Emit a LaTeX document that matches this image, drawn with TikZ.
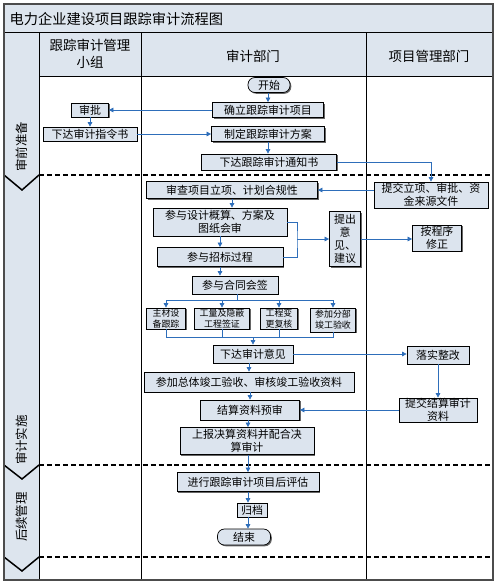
\documentclass[tikz,border=0pt]{standalone}
\usepackage{fontspec}
\setmainfont{Noto Sans CJK SC}
\usetikzlibrary{arrows.meta,shadows}
\definecolor{hdr}{RGB}{221,229,238}
\definecolor{boxfill}{RGB}{220,228,238}
\definecolor{arrblue}{RGB}{46,110,186}
\tikzset{
  fbox/.style={draw=black, fill=boxfill, line width=0.7pt, inner sep=0pt, align=center,
    font=\fontsize{11}{13}\selectfont,
    drop shadow={shadow xshift=1.3pt, shadow yshift=-1.3pt, fill=black!60, opacity=1}},
  sbox/.style={fbox, font=\fontsize{9}{11}\selectfont},
  term/.style={fbox, rounded corners=7pt},
  arr/.style={draw=arrblue, line width=0.65pt, -{Triangle[width=4.5pt,length=4.5pt]}},
  cline/.style={draw=arrblue, line width=0.65pt},
  lane/.style={draw=black, line width=1pt},
  sep/.style={draw=black, line width=1.3pt, dash pattern=on 5pt off 3pt},
  chev/.style={draw=black, line width=1.5pt},
  hdrtext/.style={font=\fontsize{13.5}{16.5}\selectfont, align=center},
  phase/.style={font=\fontsize{12.5}{14}\selectfont, rotate=90}
}
\begin{document}
\begin{tikzpicture}[x=1bp,y=-1bp]
\useasboundingbox (0,0) rectangle (498,584);
% backgrounds
\fill[hdr] (4,4) rectangle (493,33);
\fill[hdr] (4,33) rectangle (39,580);
\fill[hdr] (39,33) rectangle (493,76);
% title
\node[anchor=west, font=\fontsize{14.3}{17}\selectfont] (title) at (6,19) {电力企业建设项目跟踪审计流程图};
% headers
\node[hdrtext] (h1) at (90,54) {跟踪审计管理\\小组};
\node[hdrtext] (h2) at (253,56) {审计部门};
\node[hdrtext] (h3) at (429,56) {项目管理部门};
% lanes
\draw[lane] (4,33) -- (493,33);
\draw[lane] (39,76) -- (493,76);
\draw[lane] (39,33) -- (39,580);
\draw[lane] (141,33) -- (141,580);
\draw[lane] (366,33) -- (366,580);
% phase separators
\draw[sep] (39,175) -- (493,175);
\draw[sep] (39,465) -- (493,465);
\draw[sep] (39,557) -- (493,557);
\draw[chev] (4,175) -- (22,190) -- (39,175);
\draw[chev] (4,465) -- (22,479) -- (39,465);
\draw[chev] (4,557) -- (22,571) -- (39,557);
% phase labels
\node[phase] (ph1) at (22,147) {审前准备};
\node[phase] (ph2) at (22,440) {审计实施};
\node[phase] (ph3) at (22,517) {后续管理};
% outer frame
\draw[line width=1.2pt, draw=black!70] (4,4) rectangle (493,580);

% nodes
\node[term, minimum width=42bp, minimum height=15bp] (start) at (269,85) {开始};
\node[fbox, minimum width=111bp, minimum height=15bp] (n1) at (268,110) {确立跟踪审计项目};
\node[fbox, minimum width=113bp, minimum height=15bp] (n2) at (268,134) {制定跟踪审计方案};
\node[fbox, minimum width=135bp, minimum height=16bp] (n3) at (269,162) {下达跟踪审计通知书};
\node[fbox, minimum width=37bp, minimum height=14bp] (a1) at (90,110) {审批};
\node[fbox, minimum width=94bp, minimum height=14bp] (a2) at (90,134) {下达审计指令书};
\node[fbox, minimum width=114bp, minimum height=26bp] (p1) at (431,195) {提交立项、审批、资\\金来源文件};
\node[fbox, minimum width=171bp, minimum height=17bp] (m1) at (232,190) {审查项目立项、计划合规性};
\node[fbox, minimum width=134bp, minimum height=28bp] (m2) at (220,222) {参与设计概算、方案及\\图纸会审};
\node[fbox, minimum width=126bp, minimum height=19bp] (m3) at (220,257) {参与招标过程};
\node[fbox, minimum width=31bp, minimum height=55bp] (s1) at (345,239) {提出\\意\\见、\\建议};
\node[fbox, minimum width=49bp, minimum height=26bp] (p2) at (437,238) {按程序\\修正};
\node[fbox, minimum width=86bp, minimum height=18bp] (m4) at (235,285) {参与合同会签};
\node[sbox, minimum width=39bp, minimum height=21bp] (c1) at (166,318.5) {主材设\\备跟踪};
\node[sbox, minimum width=55bp, minimum height=21bp] (c2) at (222,318.5) {工量及隐蔽\\工程签证};
\node[sbox, minimum width=37bp, minimum height=21bp] (c3) at (279,318.5) {工程变\\更复核};
\node[sbox, minimum width=45bp, minimum height=24bp] (c4) at (333,320) {参加分部\\竣工验收};
\node[fbox, minimum width=80bp, minimum height=18bp] (m5) at (253,354) {下达审计意见};
\node[fbox, minimum width=62bp, minimum height=18bp] (p3) at (438,355) {落实整改};
\node[fbox, minimum width=210bp, minimum height=20bp] (m6) at (249,382) {参加总体竣工验收、审核竣工验收资料};
\node[fbox, minimum width=78bp, minimum height=24bp] (p4) at (438,410) {提交结算审计\\资料};
\node[fbox, minimum width=99bp, minimum height=20bp] (m7) at (250,410) {结算资料预审};
\node[fbox, minimum width=134bp, minimum height=27bp] (m8) at (247,441) {上报决算资料并配合决\\算审计};
\node[fbox, minimum width=142bp, minimum height=19bp] (m9) at (248,482) {进行跟踪审计项目后评估};
\node[fbox, minimum width=30bp, minimum height=14bp] (m10) at (252,510) {归档};
\node[term, minimum width=53bp, minimum height=16bp] (end) at (244,537) {结束};

% connectors
\draw[arr] (start.south -| n1.north) -- (n1.north);
\draw[arr] (n1.west) -- (a1.east);
\draw[arr] (a1.south) -- (a2.north);
\draw[arr] (a2.east) -- (n2.west);
\draw[arr] (n2.south) -- (n2.south |- n3.north);
\draw[arr] (n3.east) -| (p1.north);
\draw[arr] (p1.west |- m1.east) -- (m1.east);
\draw[arr] (m1.south) -- (m1.south |- m2.north);
\draw[arr] (m2.south) -- (m2.south |- m3.north);
\draw[arr] (m3.south) -- (m3.south |- m4.north);
\coordinate (j1) at (297,239);
\draw[cline] (m2.east) -| (j1) |- (m3.east);
\draw[arr] (j1) -- (s1.west);
\draw[arr] (s1.east) -- (s1.east -| p2.west);
\coordinate (bj) at (237,300);
\draw[cline] (bj |- m4.south) -- (bj);
\draw[arr] (bj) -| (c1.north);
\draw[arr] (bj) -| (c2.north);
\draw[arr] (bj) -| (c3.north);
\draw[arr] (bj) -| (c4.north);
\coordinate (mj) at (253,337);
\draw[cline] (c1.south) |- (mj);
\draw[cline] (c2.south) |- (mj);
\draw[cline] (c3.south) |- (mj);
\draw[cline] (c4.south) |- (mj);
\draw[arr] (mj) -- (m5.north);
\draw[arr] (m5.east) -- (m5.east -| p3.west);
\draw[arr] (m6.north |- m5.south) -- (m6.north);
\draw[arr] (m7.north |- m6.south) -- (m7.north);
\draw[arr] (p3.south) -- (p4.north);
\draw[arr] (p4.west) -- (m7.east);
\draw[arr] (m9.north |- m7.south) -- (m9.north |- m8.north);
\draw[arr] (m9.north |- m8.south) -- (m9.north);
\draw[arr] (m9.south) -- (m9.south |- m10.north);
\draw[arr] (m9.south |- m10.south) -- (m9.south |- end.north);
\end{tikzpicture}
\end{document}
